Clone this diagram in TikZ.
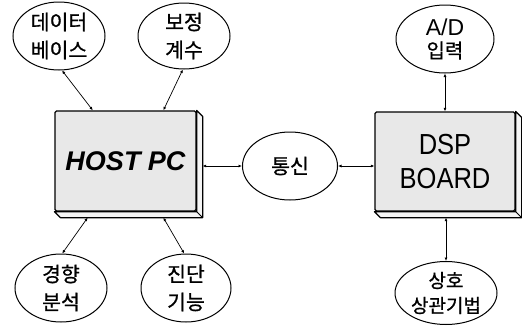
\documentclass[tikz,border=0pt]{standalone}
\usepackage{fontspec}
\setmainfont{Liberation Sans}
\newfontfamily\kr[FakeBold=0.8]{Noto Sans CJK KR}
\newfontfamily\condsans[FakeStretch=0.88]{Liberation Sans}
\usetikzlibrary{shapes.geometric,arrows.meta,calc}
\begin{document}
\begin{tikzpicture}[x=1pt,y=-1pt,
  oval/.style={ellipse, draw, line width=1pt, inner sep=0pt, align=center,
    font=\kr\fontsize{20.5}{28}\selectfont},
  boxface/.style={draw, line width=1.3pt, fill=gray!18, rounded corners=1.5pt, inner sep=0pt},
  depth/.style={draw, line width=1.2pt, fill=gray!8, line join=round},
  conn/.style={{Latex[length=3.5pt,width=3pt]}-{Latex[length=3.5pt,width=3pt]}, line width=0.7pt}]
\useasboundingbox (0,0) rectangle (522,327);

% boxes
\node[boxface, minimum width=141pt, minimum height=100pt,
  font=\bfseries\itshape\fontsize{27}{30}\selectfont] (host) at (125.5,161) {HOST PC};
\node[boxface, minimum width=140pt, minimum height=99pt, align=center,
  font=\condsans\fontsize{29}{34}\selectfont] (dsp) at (445,161.5) {DSP\\BOARD};

\foreach \b in {host,dsp}{
  \draw[depth] (\b.north east) -- ($(\b.north east)+(6,6)$) -- ($(\b.south east)+(6,6)$)
    -- ($(\b.south west)+(6,6)$) -- (\b.south west) -- (\b.south east) -- cycle;
  \draw[line width=0.8pt] (\b.south east) -- ($(\b.south east)+(6,6)$);
}

% ellipses
\node[oval, minimum width=92pt, minimum height=68pt] (db) at (59,36) {데이터\\베이스};
\node[oval, minimum width=92pt, minimum height=66pt] (bj) at (184,36) {보정\\계수};
\node[oval, minimum width=98pt, minimum height=68pt, font=\kr\fontsize{20}{23}\selectfont] (ad) at (445,39)
  {{\rmfamily\fontsize{23}{23}\selectfont A/D}\\입력};
\node[oval, minimum width=95pt, minimum height=68pt] (ts) at (290,166) {통신};
\node[oval, minimum width=92pt, minimum height=68pt] (gh) at (61,288) {경향\\분석};
\node[oval, minimum width=90pt, minimum height=68pt] (jd) at (186,288) {진단\\기능};
\node[oval, minimum width=102pt, minimum height=63pt, font=\kr\fontsize{19}{25}\selectfont] (sh) at (446,293) {상호\\상관기법};

% attachment points on boxes
\coordinate (h1) at ($(host.north west)!0.27!(host.north east)$);
\coordinate (h2) at ($(host.north west)!0.766!(host.north east)$);
\coordinate (h3) at ($(host.south west)!0.234!(host.south east)+(0,6)$);
\coordinate (h4) at ($(host.south west)!0.766!(host.south east)+(0,6)$);
\coordinate (hr) at ($(host.east)+(6,5)$);
\coordinate (d1) at ($(dsp.south)+(1,6)$);

% connectors
\draw[conn] (db.-85) -- (h1);
\draw[conn] (bj.-92) -- (h2);
\draw[conn] (h3) -- (gh.88);
\draw[conn] (h4) -- (jd.93);
\draw[conn] (hr) -- (ts.west);
\draw[conn] (ts.east) -- (ts.east -| dsp.west);
\draw[conn] (ad) -- (dsp);
\draw[conn] (d1) -- (sh.north);
\end{tikzpicture}
\end{document}
